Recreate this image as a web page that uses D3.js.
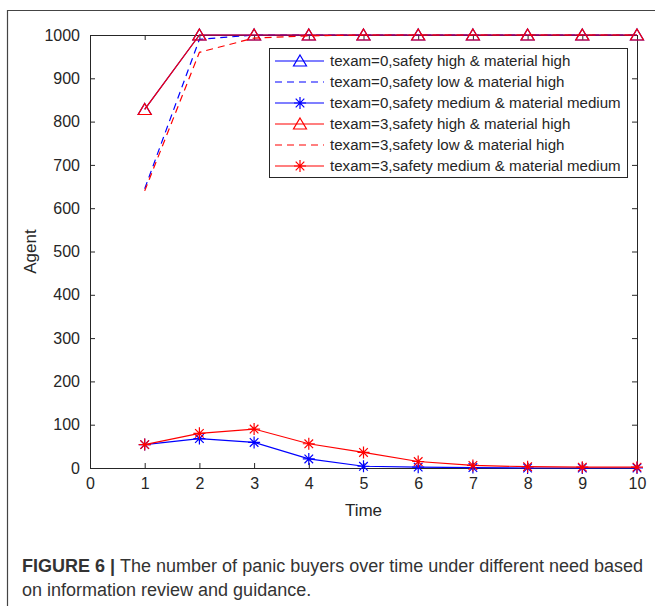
<!DOCTYPE html>
<html>
<head>
<meta charset="utf-8">
<script src="https://cdn.jsdelivr.net/npm/d3@7"></script>
<style>
  body { margin: 0; background: #fff; }
  svg text { font-family: "Liberation Sans", Arial, sans-serif; }
</style>
</head>
<body>
<div id="chart"></div>
<script>
const times = [1, 2, 3, 4, 5, 6, 7, 8, 9, 10];
const xTicks = [0, 1, 2, 3, 4, 5, 6, 7, 8, 9, 10];
const yTicks = [0, 100, 200, 300, 400, 500, 600, 700, 800, 900, 1000];

const t0HighHigh = [828, 1000, 1000, 1000, 1000, 1000, 1000, 1000, 1000, 1000];
const t0LowHigh = [645, 990, 1000, 1000, 1000, 1000, 1000, 1000, 1000, 1000];
const t0MedMed = [54, 68, 59, 21, 4, 2, 1, 0, 0, 0];
const t3HighHigh = [828, 1000, 1000, 1000, 1000, 1000, 1000, 1000, 1000, 1000];
const t3LowHigh = [640, 960, 993, 998, 1000, 1000, 1000, 1000, 1000, 1000];
const t3MedMed = [54, 80, 90, 56, 36, 15, 6, 3, 2, 2];

const seriesNames = [
  'texam=0,safety high & material high',
  'texam=0,safety low & material high',
  'texam=0,safety medium & material medium',
  'texam=3,safety high & material high',
  'texam=3,safety low & material high',
  'texam=3,safety medium & material medium'
];

const series = [
  { name: seriesNames[0], values: t0HighHigh, color: '#0000ff', dash: null, marker: 'tri' },
  { name: seriesNames[1], values: t0LowHigh, color: '#0000ff', dash: '7,5', marker: null },
  { name: seriesNames[2], values: t0MedMed, color: '#0000ff', dash: null, marker: 'star' },
  { name: seriesNames[3], values: t3HighHigh, color: '#ff0000', dash: null, marker: 'tri' },
  { name: seriesNames[4], values: t3LowHigh, color: '#ff0000', dash: '7,5', marker: null },
  { name: seriesNames[5], values: t3MedMed, color: '#ff0000', dash: null, marker: 'star' }
];

const W = 655, H = 606;
const plotL = 90, plotR = 637, plotT = 35, plotB = 468;
const axisColor = '#262626';

const svg = d3.select('#chart').append('svg')
  .attr('width', W)
  .attr('height', H);

// outer frame
svg.append('path')
  .attr('d', `M7.5,${H} L7.5,10.5 L${W},10.5`)
  .attr('fill', 'none')
  .attr('stroke', '#444')
  .attr('stroke-width', 1.2);

const x = d3.scaleLinear().domain([0, 10]).range([plotL, plotR]);
const y = d3.scaleLinear().domain([0, 1000]).range([plotB, plotT]);

const g = svg.append('g');

// axes with inward ticks
const tickLen = 5;
const xAxis = g.append('g')
  .attr('transform', `translate(0,${plotB})`)
  .call(d3.axisBottom(x).tickValues(xTicks).tickSize(-tickLen).tickPadding(10).tickFormat(d3.format('d')));
const xAxisTop = g.append('g')
  .attr('transform', `translate(0,${plotT})`)
  .call(d3.axisTop(x).tickValues(xTicks).tickSize(-tickLen).tickFormat(''));
const yAxis = g.append('g')
  .attr('transform', `translate(${plotL},0)`)
  .call(d3.axisLeft(y).tickValues(yTicks).tickSize(-tickLen).tickPadding(10).tickFormat(d3.format('d')));
const yAxisRight = g.append('g')
  .attr('transform', `translate(${plotR},0)`)
  .call(d3.axisRight(y).tickValues(yTicks).tickSize(-tickLen).tickFormat(''));

[xAxis, xAxisTop, yAxis, yAxisRight].forEach(a => {
  a.select('.domain').attr('stroke', axisColor).attr('stroke-width', 1);
  a.selectAll('.tick line').attr('stroke', axisColor);
  a.selectAll('.tick text').attr('fill', axisColor).style('font-size', '16px');
});

// axis labels
svg.append('text')
  .attr('x', (plotL + plotR) / 2)
  .attr('y', 516)
  .attr('text-anchor', 'middle')
  .attr('fill', axisColor)
  .style('font-size', '17px')
  .text('Time');

svg.append('text')
  .attr('transform', `translate(36,${(plotT + plotB) / 2}) rotate(-90)`)
  .attr('text-anchor', 'middle')
  .attr('fill', axisColor)
  .style('font-size', '17px')
  .text('Agent');

const line = d3.line()
  .x((d, i) => x(times[i]))
  .y(d => y(d));

const triPath = 'M0,-6 L6.5,5 L-6.5,5 Z';
const starPath = 'M0,-6 L0,6 M-6,0 L6,0 M-4.3,-4.3 L4.3,4.3 M-4.3,4.3 L4.3,-4.3';

function drawMarker(sel, type, color) {
  if (type === 'tri') {
    sel.append('path').attr('d', triPath).attr('fill', 'none').attr('stroke', color).attr('stroke-width', 1.2);
  } else if (type === 'star') {
    sel.append('path').attr('d', starPath).attr('fill', 'none').attr('stroke', color).attr('stroke-width', 1.2);
  }
}

series.forEach(s => {
  g.append('path')
    .datum(s.values)
    .attr('d', line)
    .attr('fill', 'none')
    .attr('stroke', s.color)
    .attr('stroke-width', 1.2)
    .attr('stroke-dasharray', s.dash);
  if (s.marker) {
    s.values.forEach((v, i) => {
      const m = g.append('g').attr('transform', `translate(${x(times[i])},${y(v)})`);
      drawMarker(m, s.marker, s.color);
    });
  }
});

// legend
const legX = 269, legY = 48, legW = 358, legH = 129, rowH = 21;
const legend = svg.append('g');
legend.append('rect')
  .attr('x', legX + 0.5).attr('y', legY + 0.5)
  .attr('width', legW).attr('height', legH)
  .attr('fill', '#fff')
  .attr('stroke', axisColor)
  .attr('stroke-width', 1);

series.forEach((s, i) => {
  const cy = legY + 13 + i * rowH;
  const row = legend.append('g');
  row.append('line')
    .attr('x1', legX + 6).attr('x2', legX + 55)
    .attr('y1', cy).attr('y2', cy)
    .attr('stroke', s.color)
    .attr('stroke-width', 1.2)
    .attr('stroke-dasharray', s.dash);
  const m = row.append('g').attr('transform', `translate(${legX + 31},${cy})`);
  drawMarker(m, s.marker, s.color);
  row.append('text')
    .attr('x', legX + 61)
    .attr('y', cy + 5)
    .attr('fill', axisColor)
    .style('font-size', '15.1px')
    .text(s.name);
});

// caption
const cap = svg.append('text')
  .attr('x', 22)
  .attr('y', 572)
  .attr('fill', '#333')
  .style('font-size', '18px');
cap.append('tspan').style('font-weight', 'bold').text('FIGURE 6 | ');
cap.append('tspan').text('The number of panic buyers over time under different need based');
svg.append('text')
  .attr('x', 22)
  .attr('y', 596)
  .attr('fill', '#333')
  .style('font-size', '18px')
  .text('on information review and guidance.');
</script>
</body>
</html>
